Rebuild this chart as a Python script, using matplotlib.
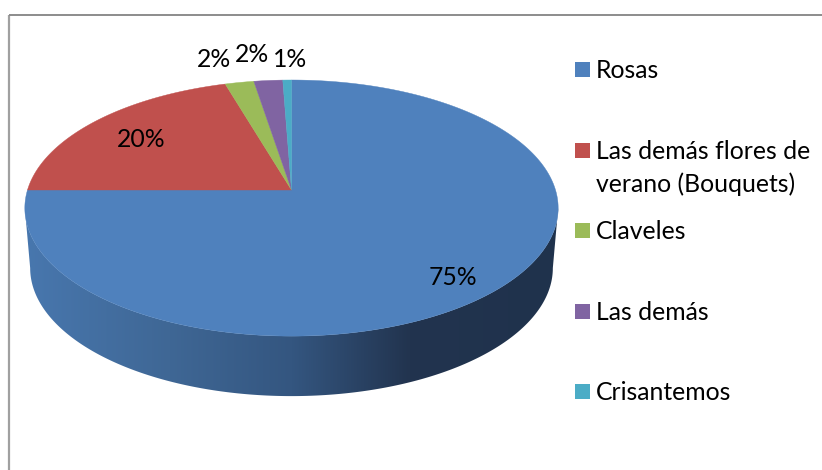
import numpy as np
import matplotlib
matplotlib.use("Agg")
import matplotlib.pyplot as plt
from matplotlib.patches import Polygon, Rectangle
from matplotlib.colors import LinearSegmentedColormap

categories = ["Rosas", "Las demás flores de\nverano (Bouquets)", "Claveles", "Las demás", "Crisantemos"]
values = [75.0, 20.4, 2.0, 2.0, 0.6]
labels = ["75%", "20%", "2%", "2%", "1%"]
colors = ["#4F81BD", "#C0504D", "#9BBB59", "#8064A2", "#4BACC6"]
label_xy = [(453, 285), (141, 147), (214, 67), (252, 62), (290, 67)]
legend_y = [69.5, 150.5, 230.5, 311.5, 391.5]

W, H = 822, 470
FS = 17.8
plt.rcParams["font.family"] = ["Lato", "DejaVu Sans"]
fig = plt.figure(figsize=(W / 100, H / 100), dpi=100, facecolor="white")
ax = fig.add_axes([0, 0, 1, 1])
ax.set_xlim(0, W)
ax.set_ylim(H, 0)
ax.axis("off")

CX, CY, A, B, K, DEPTH, NARROW = 291.5, 190.0, 264.0, 125.5, -0.141, 60.0, 0.98


def project(frac):
    th = 2 * np.pi * np.asarray(frac)
    u, v = np.sin(th), np.cos(th)
    d = 1 - K * v
    return CX + A * u / d, CY - B * v / d


# frame: only top and left edges are visible
ax.plot([9, 9], [H, 15], color="#a0a0a0", lw=1.6, solid_capstyle="butt", zorder=1)
ax.plot([9, W], [15, 15], color="#8c8c8c", lw=1.4, solid_capstyle="butt", zorder=1)

# side wall with horizontal gradient, clipped to the extruded outline
f = np.linspace(0, 1, 2001)
xe, ye = project(f)
i_r, i_l = int(np.argmax(xe)), int(np.argmin(xe))
x_low, y_low = xe[i_r:i_l + 1], ye[i_r:i_l + 1]
x_bot = CX + (x_low - CX) * NARROW
y_bot = y_low + DEPTH
wall = Polygon(np.c_[np.r_[x_low, x_bot[::-1]], np.r_[y_low, y_bot[::-1]]], closed=True,
               facecolor="none", edgecolor="none", zorder=2)
ax.add_patch(wall)
cmap = LinearSegmentedColormap.from_list(
    "wall",
    [(0, "#4877AE"), (0.27, "#3F6795"), (0.5, "#345680"), (0.72, "#22344F"), (1, "#1F324C")],
)
im = ax.imshow(np.linspace(0, 1, 256)[None, :], extent=(25, 558, H, 0), aspect="auto",
               cmap=cmap, zorder=2, interpolation="bilinear")
im.set_clip_path(wall)
ax.set_xlim(0, W)
ax.set_ylim(H, 0)

# top surface
edges = np.r_[0, np.cumsum(values)] / np.sum(values)
for lo, hi, c in zip(edges[:-1], edges[1:], colors):
    fr = np.linspace(lo, hi, max(int((hi - lo) * 720), 4))
    x, y = project(fr)
    ax.add_patch(Polygon(np.c_[np.r_[CX, x], np.r_[CY, y]], closed=True,
                         facecolor=c, edgecolor=c, lw=0.3, zorder=3))

# data labels
for (x, y), t in zip(label_xy, labels):
    ax.text(x, y, t, ha="center", va="baseline", fontsize=FS, color="black", zorder=5)

# legend
for y, c, t in zip(legend_y, colors, categories):
    ax.add_patch(Rectangle((575, y - 7.5), 15, 15, facecolor=c, edgecolor="none", zorder=5))
    for n, line in enumerate(t.split("\n")):
        ax.text(596, y + 8.5 + 33 * n, line, ha="left", va="baseline", fontsize=FS, color="black", zorder=5)

fig.savefig("out.png", dpi=100, facecolor="white")
